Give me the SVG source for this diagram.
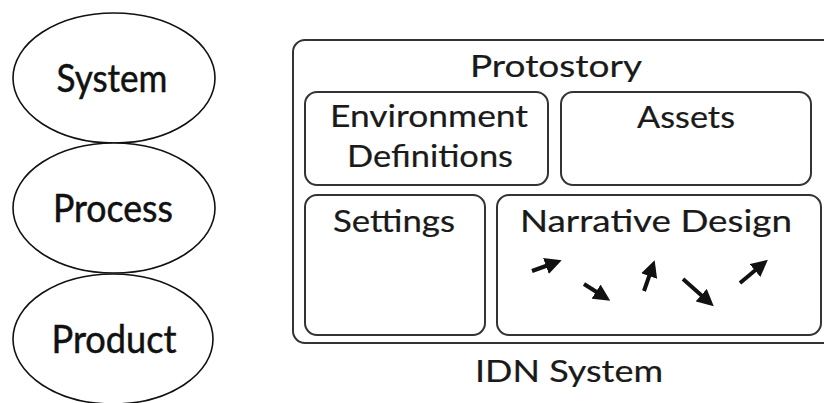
<svg xmlns="http://www.w3.org/2000/svg" width="824" height="403" viewBox="0 0 824 403">
<defs>
<style>
.ell{fill:#fff;stroke:#111;stroke-width:1.6}
.box{fill:#fff;stroke:#333;stroke-width:2}
.big{font-family:Lato,"Open Sans",sans-serif;font-size:38px;fill:#111;stroke:#111;stroke-width:0.5;text-anchor:middle}
.lbl{font-family:Lato,"Open Sans",sans-serif;font-size:31px;fill:#1a1a1a;stroke:#1a1a1a;stroke-width:0.2;text-anchor:middle}
.arr{stroke:#111;stroke-width:4;fill:none;marker-end:url(#ah)}
</style>
<marker id="ah" viewBox="0 0 10 10" refX="7" refY="5" markerWidth="4.2" markerHeight="4.2" orient="auto" markerUnits="strokeWidth">
<path d="M0,0 L10,5 L0,10 Z" fill="#111"/>
</marker>
</defs>
<rect width="824" height="403" fill="#fff"/>
<g id="system">
<ellipse class="ell" cx="114" cy="78" rx="101" ry="65"/>
<text class="big" x="112" y="92" textLength="111" lengthAdjust="spacingAndGlyphs">System</text>
</g>
<g id="process">
<ellipse class="ell" cx="114" cy="208" rx="101" ry="65"/>
<text class="big" x="113" y="222" textLength="120" lengthAdjust="spacingAndGlyphs">Process</text>
</g>
<g id="product">
<ellipse class="ell" cx="113" cy="339" rx="100" ry="65"/>
<text class="big" x="114" y="353" textLength="125" lengthAdjust="spacingAndGlyphs">Product</text>
</g>
<g id="idn-system">
<rect class="box" x="293" y="40" width="545" height="303" rx="12" stroke="#555" stroke-width="2.2"/>
<text class="lbl" x="569" y="382" textLength="188" lengthAdjust="spacingAndGlyphs">IDN System</text>
</g>
<g id="protostory">
<text class="lbl" x="556" y="77" textLength="172" lengthAdjust="spacingAndGlyphs">Protostory</text>
</g>
<g id="environment">
<rect class="box" x="305" y="92" width="243" height="93" rx="12"/>
<text class="lbl" x="429" y="127" textLength="198" lengthAdjust="spacingAndGlyphs">Environment</text>
<text class="lbl" x="430" y="167" textLength="166" lengthAdjust="spacingAndGlyphs">Definitions</text>
</g>
<g id="assets">
<rect class="box" x="561" y="92" width="250" height="93" rx="12"/>
<text class="lbl" x="686" y="128" textLength="98" lengthAdjust="spacingAndGlyphs">Assets</text>
</g>
<g id="settings">
<rect class="box" x="305" y="195" width="180" height="140" rx="12"/>
<text class="lbl" x="394" y="232" textLength="122" lengthAdjust="spacingAndGlyphs">Settings</text>
</g>
<g id="narrative-design">
<rect class="box" x="497" y="195" width="324" height="140" rx="12"/>
<text class="lbl" x="656" y="232" textLength="272" lengthAdjust="spacingAndGlyphs">Narrative Design</text>
</g>
<g id="connectors">
<line class="arr" x1="532" y1="271" x2="557" y2="262"/>
<line class="arr" x1="584" y1="284" x2="606" y2="298"/>
<line class="arr" x1="644" y1="291" x2="653" y2="265"/>
<line class="arr" x1="683" y1="279" x2="710" y2="303"/>
<line class="arr" x1="740" y1="283" x2="764" y2="263"/>
</g>
</svg>
